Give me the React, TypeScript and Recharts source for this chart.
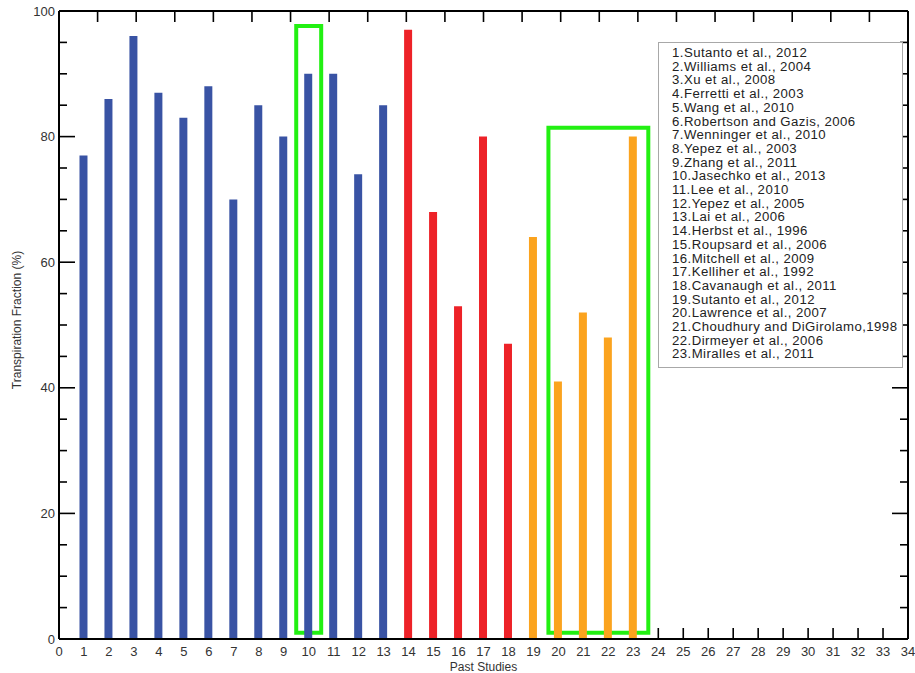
import React from 'react';
import { ComposedChart, Bar, Cell, XAxis, YAxis, ReferenceArea, Legend, Label } from 'recharts';

const studies = [
  '1.Sutanto et al., 2012',
  '2.Williams et al., 2004',
  '3.Xu et al., 2008',
  '4.Ferretti et al., 2003',
  '5.Wang et al., 2010',
  '6.Robertson and Gazis, 2006',
  '7.Wenninger et al., 2010',
  '8.Yepez et al., 2003',
  '9.Zhang et al., 2011',
  '10.Jasechko et al., 2013',
  '11.Lee et al., 2010',
  '12.Yepez et al., 2005',
  '13.Lai et al., 2006',
  '14.Herbst et al., 1996',
  '15.Roupsard et al., 2006',
  '16.Mitchell et al., 2009',
  '17.Kelliher et al., 1992',
  '18.Cavanaugh et al., 2011',
  '19.Sutanto et al., 2012',
  '20.Lawrence et al., 2007',
  '21.Choudhury and DiGirolamo,1998',
  '22.Dirmeyer et al., 2006',
  '23.Miralles et al., 2011',
];

const studyIds = [1, 2, 3, 4, 5, 6, 7, 8, 9, 10, 11, 12, 13, 14, 15, 16, 17, 18, 19, 20, 21, 22, 23];
const fractions = [77, 86, 96, 87, 83, 88, 70, 85, 80, 90, 90, 74, 85, 97, 68, 53, 80, 47, 64, 41, 52, 48, 80];
const groups = [
  'a', 'a', 'a', 'a', 'a', 'a', 'a', 'a', 'a', 'a', 'a', 'a', 'a',
  'b', 'b', 'b', 'b', 'b',
  'c', 'c', 'c', 'c', 'c',
];
const groupColors: Record<string, string> = { a: '#3953a4', b: '#ed2228', c: '#fba31e' };

const xTicks = [0, 1, 2, 3, 4, 5, 6, 7, 8, 9, 10, 11, 12, 13, 14, 15, 16, 17, 18, 19, 20, 21, 22, 23, 24, 25, 26, 27, 28, 29, 30, 31, 32, 33, 34];
const yTicks = [0, 5, 10, 15, 20, 25, 30, 35, 40, 45, 50, 55, 60, 65, 70, 75, 80, 85, 90, 95, 100];
const yLabelTicks = [0, 20, 40, 60, 80, 100];

const highlightX1 = [9.5, 19.6];
const highlightX2 = [10.5, 23.6];
const highlightY1 = [1, 1];
const highlightY2 = [97.6, 81.4];

const rows = studyIds.map((id, i) => ({ id, fraction: fractions[i], group: groups[i] }));
const boxes = highlightX1.map((x1, i) => ({ x1, x2: highlightX2[i], y1: highlightY1[i], y2: highlightY2[i] }));

const FONT = '"Liberation Sans", Arial, Helvetica, sans-serif';
const TEXT = '#333';

const BottomTick = (props: any) => {
  const { x, y, payload } = props;
  const hiddenByBar = studyIds.includes(payload.value);
  return (
    <g>
      {!hiddenByBar && <line x1={x} y1={y} x2={x} y2={y - 11} stroke="#000" strokeWidth={1.6} />}
      <text x={x} y={y + 16.5} textAnchor="middle" fontSize={13} fill={TEXT} fontFamily={FONT}>
        {payload.value}
      </text>
    </g>
  );
};

const TopTick = (props: any) => {
  const { x, y } = props;
  return <line x1={x} y1={y} x2={x} y2={y + 11} stroke="#000" strokeWidth={1.6} />;
};

const LeftTick = (props: any) => {
  const { x, y, payload } = props;
  const major = yLabelTicks.includes(payload.value);
  return (
    <g>
      <line x1={x} y1={y} x2={x + (major ? 16 : 8)} y2={y} stroke="#000" strokeWidth={1.6} />
      {major && (
        <text x={x - 4} y={y + 4.5} textAnchor="end" fontSize={13} fill={TEXT} fontFamily={FONT}>
          {payload.value}
        </text>
      )}
    </g>
  );
};

const RightTick = (props: any) => {
  const { x, y, payload } = props;
  const major = yLabelTicks.includes(payload.value);
  return <line x1={x} y1={y} x2={x - (major ? 16 : 8)} y2={y} stroke="#000" strokeWidth={1.6} />;
};

const LegendBox = () => (
  <div
    style={{
      width: '100%',
      height: '100%',
      boxSizing: 'border-box',
      border: '1px solid #a8a8a8',
      background: '#fff',
      padding: '4px 0 0 13px',
      fontFamily: FONT,
      color: '#222',
      textAlign: 'left',
    }}
  >
    <div
      style={{
        fontSize: 12,
        lineHeight: '13.7px',
        letterSpacing: '0.4px',
        transform: 'scaleX(1.1)',
        transformOrigin: 'left top',
      }}
    >
      {studies.map((s) => (
        <div key={s} style={{ whiteSpace: 'nowrap' }}>{s}</div>
      ))}
    </div>
  </div>
);

export default function App() {
  return (
    <div style={{ position: 'absolute', left: 0, top: 0, width: 915, height: 673, fontFamily: FONT }}>
      <ComposedChart width={915} height={673} data={rows} margin={{ top: 8, right: 0, bottom: 0, left: 8 }}>
        <XAxis
          dataKey="id"
          type="number"
          domain={[0, 34]}
          ticks={xTicks}
          interval={0}
          allowDataOverflow
          height={34}
          tickSize={0}
          tickMargin={0}
          tickLine={false}
          axisLine={{ stroke: '#000', strokeWidth: 2 }}
          tick={BottomTick}
        >
          <Label
            content={() => (
              <text x={483.5} y={671} textAnchor="middle" fontSize={12} fill={TEXT} fontFamily={FONT}>
                Past Studies
              </text>
            )}
          />
        </XAxis>
        <XAxis
          xAxisId="top"
          orientation="top"
          type="number"
          domain={[0, 34]}
          ticks={xTicks}
          interval={0}
          allowDataOverflow
          height={3}
          tickSize={0}
          tickMargin={0}
          tickLine={false}
          axisLine={{ stroke: '#000', strokeWidth: 2 }}
          tick={TopTick}
        />
        <YAxis
          type="number"
          domain={[0, 100]}
          ticks={yTicks}
          interval={0}
          allowDataOverflow
          width={51}
          tickSize={0}
          tickMargin={0}
          tickLine={false}
          axisLine={{ stroke: '#000', strokeWidth: 2 }}
          tick={LeftTick}
        >
          <Label
            content={() => (
              <text
                x={21}
                y={320}
                transform="rotate(-90, 21, 320)"
                textAnchor="middle"
                fontSize={12}
                fill={TEXT}
                fontFamily={FONT}
              >
                Transpiration Fraction (%)
              </text>
            )}
          />
        </YAxis>
        <YAxis
          yAxisId="right"
          orientation="right"
          type="number"
          domain={[0, 100]}
          ticks={yTicks}
          interval={0}
          allowDataOverflow
          width={7}
          tickSize={0}
          tickMargin={0}
          tickLine={false}
          axisLine={{ stroke: '#000', strokeWidth: 2 }}
          tick={RightTick}
        />
        <Bar dataKey="fraction" barSize={8} isAnimationActive={false}>
          {rows.map((r) => (
            <Cell key={r.id} fill={groupColors[r.group]} />
          ))}
        </Bar>
        {boxes.map((b, i) => (
          <ReferenceArea
            key={i}
            x1={b.x1}
            x2={b.x2}
            y1={b.y1}
            y2={b.y2}
            fill="none"
            fillOpacity={0}
            stroke="#22f012"
            strokeWidth={4}
            strokeOpacity={1}
          />
        ))}
        <Legend
          layout="horizontal"
          verticalAlign="middle"
          wrapperStyle={{ position: 'absolute', left: 658, top: 42, width: 245, height: 326 }}
          content={() => <LegendBox />}
        />
      </ComposedChart>
    </div>
  );
}
